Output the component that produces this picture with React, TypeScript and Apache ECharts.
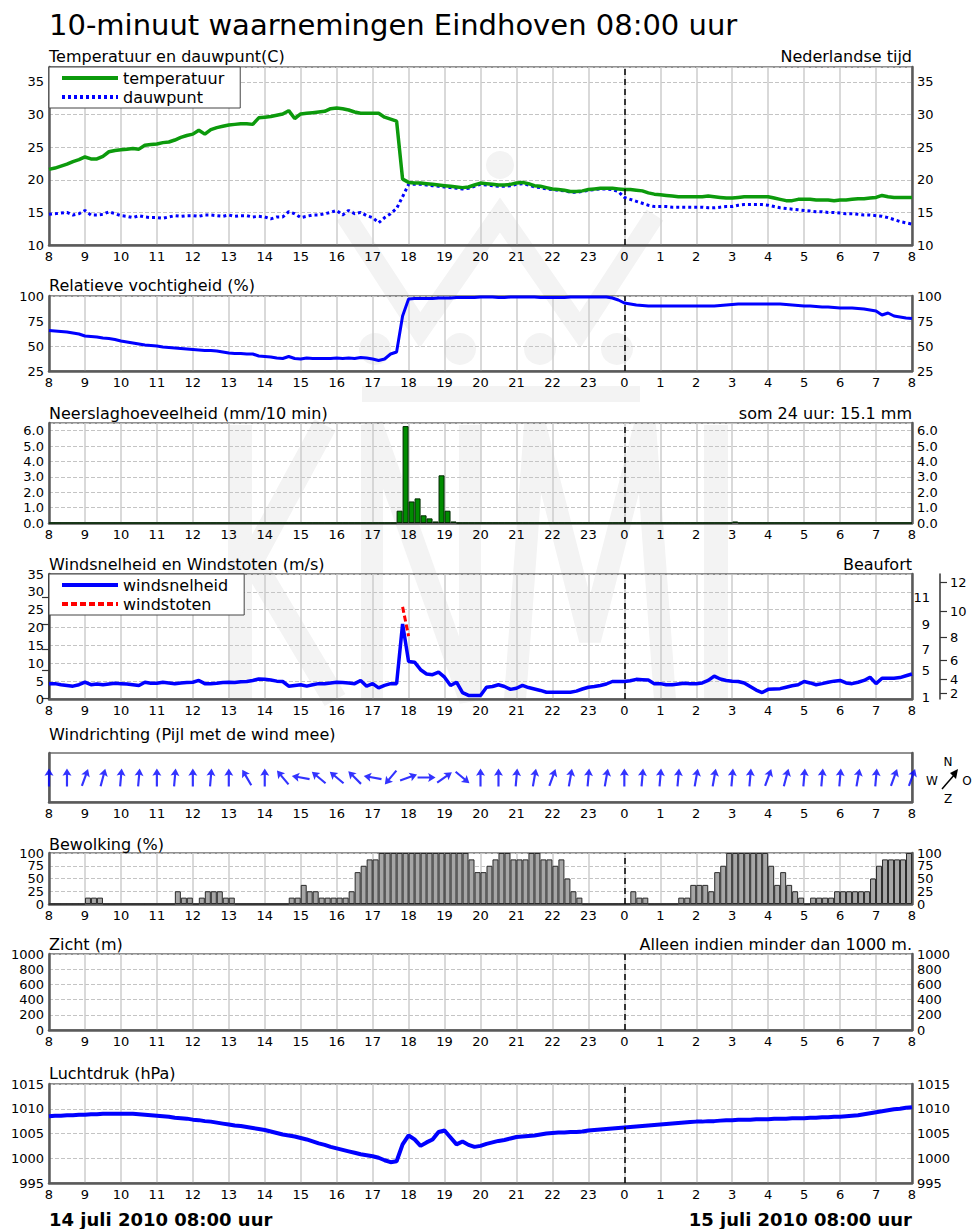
import React, { useEffect, useRef } from "react";
import * as echarts from "echarts";

// ---------- DATA ----------
const hourLabels = ["8", "9", "10", "11", "12", "13", "14", "15", "16", "17", "18", "19", "20", "21", "22", "23", "0", "1", "2", "3", "4", "5", "6", "7", "8"];
const stepsPerHour = 6; // 10-minute observations, 14 juli 08:00 .. 15 juli 08:00

const temperature = [
  21.6, 21.8, 22.1, 22.4, 22.8, 23.1,
  23.5, 23.2, 23.2, 23.6, 24.3, 24.5,
  24.6, 24.7, 24.8, 24.7, 25.3, 25.4,
  25.5, 25.7, 25.8, 26.1, 26.5, 26.8,
  27.0, 27.6, 27.0, 27.7, 28.0, 28.2,
  28.4, 28.5, 28.6, 28.6, 28.5, 29.5,
  29.6, 29.7, 29.9, 30.1, 30.6, 29.4,
  30.1, 30.2, 30.3, 30.4, 30.5, 30.9,
  31.0, 30.9, 30.7, 30.4, 30.2, 30.2,
  30.2, 30.2, 29.6, 29.3, 29.0, 20.1,
  19.6, 19.5, 19.5, 19.4, 19.3, 19.2,
  19.1, 19.0, 18.9, 18.8, 18.9, 19.2,
  19.5, 19.4, 19.3, 19.2, 19.2, 19.3,
  19.5, 19.6, 19.4, 19.1, 19.0, 18.8,
  18.6, 18.5, 18.4, 18.2, 18.2, 18.3,
  18.5, 18.6, 18.7, 18.7, 18.7, 18.6,
  18.5, 18.5, 18.4, 18.3, 18.0, 17.8,
  17.7, 17.6, 17.5, 17.4, 17.4, 17.4,
  17.4, 17.4, 17.5, 17.4, 17.3, 17.2,
  17.2, 17.3, 17.4, 17.4, 17.4, 17.4,
  17.4, 17.2, 17.0, 16.8, 16.8, 17.0,
  17.0, 17.0, 16.9, 16.9, 16.9, 16.8,
  16.9, 16.9, 17.0, 17.1, 17.1, 17.2,
  17.3, 17.6, 17.4, 17.3, 17.3, 17.3,
  17.3,
];

const dewpoint = [
  14.7, 14.8, 14.9, 15.0, 14.6, 14.8,
  15.3, 14.6, 14.6, 14.7, 15.1, 14.8,
  14.5, 14.4, 14.2, 14.5, 14.3, 14.2,
  14.2, 14.1, 14.3, 14.5, 14.4, 14.5,
  14.5, 14.4, 14.6, 14.6, 14.5, 14.4,
  14.6, 14.4, 14.5, 14.5, 14.3, 14.4,
  14.3, 14.0, 14.3, 14.3, 15.1, 14.8,
  14.2, 14.4, 14.6, 14.6, 14.8, 15.0,
  15.3, 14.6, 15.3, 14.8, 15.0, 14.5,
  14.2, 13.4, 14.2, 14.8, 15.6, 17.4,
  19.3, 19.3, 19.3, 19.2, 19.1, 19.0,
  18.9, 18.8, 18.7, 18.6, 18.7, 19.0,
  19.3, 19.2, 19.1, 19.0, 19.0, 19.1,
  19.3, 19.4, 19.2, 18.9, 18.8, 18.6,
  18.5, 18.4, 18.3, 18.1, 18.1, 18.2,
  18.4, 18.5, 18.6, 18.6, 18.5, 18.2,
  17.3, 17.0, 16.7, 16.4, 16.1, 15.9,
  15.9, 15.9, 15.8, 15.8, 15.8, 15.8,
  15.8, 15.8, 15.7, 15.7, 15.8, 15.9,
  15.9, 16.1, 16.2, 16.2, 16.2, 16.2,
  16.1, 15.9, 15.7, 15.6, 15.5, 15.4,
  15.3, 15.2, 15.1, 15.1, 15.0, 15.0,
  14.9, 14.8, 14.8, 14.7, 14.6, 14.6,
  14.5, 14.4, 14.2, 13.9, 13.6, 13.4,
  13.2,
];

const humidity = [
  65.5, 65, 64.5, 64, 63, 62,
  60, 59.5, 59, 58, 57.5, 56.5,
  55, 54, 53, 52, 51, 50.5,
  50, 49, 48.5, 48, 47.5, 47,
  46.5, 46, 45.5, 45.5, 45, 44,
  43, 42.5, 42.5, 42, 42, 40,
  39.5, 39, 38, 37.5, 39.5, 37.5,
  37, 38, 37.5, 37.5, 37.5, 37.5,
  38, 37.5, 38, 37.5, 38.5, 38,
  37, 35.5, 37, 42, 44, 80,
  97, 97.5, 97.5, 97.5, 97.5, 98,
  98, 98, 98.5, 98.5, 98.5, 98.5,
  99, 99, 99, 98.5, 98.5, 99,
  99, 99, 99, 99, 98.5, 98.5,
  98.5, 98.5, 98.5, 99, 99, 99,
  99, 99, 99, 99, 98, 96,
  93, 92, 91, 90.5, 90, 90,
  90, 90, 90, 90, 90, 90,
  90, 90, 90, 90, 90.5, 91,
  91.5, 92, 92, 92, 92, 92,
  92, 92, 92, 91.5, 91, 90.5,
  90, 90, 89.5, 89, 89, 88.5,
  88, 88, 88, 87.5, 87, 86,
  85, 81, 83, 80, 79, 78,
  77.5,
];

// precipitation per 10-minute interval (mm), 144 intervals
const rain = [
  0, 0, 0, 0, 0, 0, 0, 0, 0, 0, 0, 0,
  0, 0, 0, 0, 0, 0, 0, 0, 0, 0, 0, 0,
  0, 0, 0, 0, 0, 0, 0, 0, 0, 0, 0, 0,
  0, 0, 0, 0, 0, 0, 0, 0, 0, 0, 0, 0,
  0, 0, 0, 0, 0, 0, 0, 0, 0, 0, 0.8, 6.3,
  1.4, 1.6, 0.5, 0.3, 0.1, 3.1, 0.8, 0.1, 0, 0, 0, 0,
  0, 0, 0, 0, 0, 0, 0, 0, 0, 0, 0, 0,
  0, 0, 0, 0, 0, 0, 0, 0, 0, 0, 0, 0,
  0, 0, 0, 0, 0, 0, 0, 0, 0, 0, 0, 0,
  0, 0, 0, 0, 0, 0, 0.1, 0, 0, 0, 0, 0,
  0, 0, 0, 0, 0, 0, 0, 0, 0, 0, 0, 0,
  0, 0, 0, 0, 0, 0, 0, 0, 0, 0, 0, 0,
];

const windSpeed = [
  4.3, 4.3, 4.0, 3.8, 3.6, 4.0,
  4.7, 4.0, 4.2, 4.0, 4.2, 4.4,
  4.3, 4.2, 4.0, 3.8, 4.7, 4.4,
  4.4, 4.7, 4.5, 4.3, 4.5, 4.6,
  4.7, 5.2, 4.3, 4.3, 4.4, 4.6,
  4.7, 4.6, 4.8, 4.9, 5.2, 5.6,
  5.5, 5.3, 5.0, 4.9, 3.6, 3.8,
  4.0, 3.6, 4.0, 4.3, 4.3, 4.5,
  4.7, 4.6, 4.5, 4.3, 5.2, 3.6,
  4.3, 3.1, 3.8, 4.3, 4.3, 21.0,
  10.5, 10.3, 8.2, 7.0, 6.8, 7.5,
  6.1, 3.8, 4.7, 1.8, 1.0, 1.0,
  1.0, 3.3, 3.5, 4.0, 3.5, 2.7,
  3.0, 3.8, 3.2, 2.8, 2.4, 1.9,
  1.9, 1.9, 1.9, 1.9, 2.2, 2.8,
  3.3, 3.5, 3.8, 4.2, 4.9, 4.9,
  4.9, 5.1, 5.5, 5.4, 5.3, 4.3,
  4.3, 4.0, 4.0, 4.2, 4.4, 4.3,
  4.3, 4.5, 5.2, 6.4, 5.6, 5.2,
  5.0, 4.9, 4.5, 3.5, 2.5, 1.8,
  2.7, 2.8, 2.9, 3.3, 3.7, 4.0,
  4.9, 4.5, 4.0, 4.3, 4.7, 5.0,
  5.2, 4.5, 4.3, 4.7, 5.2, 6.1,
  4.3, 5.8, 5.8, 5.8, 6.0, 6.5,
  7.0,
];

const gustTimes = ["17:50", "18:00"];
const gustValues = [25.8, 17.6];

// wind direction (degrees, where the wind comes from), every 30 minutes
const windDirection = [
  180, 180, 200, 195, 185, 185, 180, 185, 180, 185,
  180, 150, 180, 140, 100, 130, 130, 135, 100, 40,
  250, 270, 235, 310, 180, 180, 185, 190, 200, 190,
  185, 190, 180, 185, 185, 185, 190, 190, 185, 185,
  200, 195, 185, 185, 185, 190, 185, 200, 200,
];

// cloud cover per 10-minute interval (%), 144 intervals
const clouds = [
  0, 0, 0, 0, 0, 0, 12.5, 12.5, 12.5, 0, 0, 0,
  0, 0, 0, 0, 0, 0, 0, 0, 0, 25, 12.5, 12.5,
  0, 12.5, 25, 25, 25, 12.5, 12.5, 0, 0, 0, 0, 0,
  0, 0, 0, 0, 12.5, 12.5, 37.5, 25, 25, 12.5, 12.5, 12.5,
  12.5, 12.5, 25, 62.5, 75, 87.5, 87.5, 100, 100, 100, 100, 100,
  100, 100, 100, 100, 100, 100, 100, 100, 100, 100, 87.5, 62.5,
  62.5, 75, 87.5, 100, 100, 87.5, 87.5, 87.5, 100, 100, 87.5, 87.5,
  75, 87.5, 50, 25, 12.5, 0, 0, 0, 0, 0, 0, 0,
  0, 25, 12.5, 12.5, 0, 0, 0, 0, 0, 12.5, 12.5, 37.5,
  37.5, 37.5, 25, 62.5, 75, 100, 100, 100, 100, 100, 100, 100,
  75, 37.5, 62.5, 37.5, 25, 12.5, 0, 12.5, 12.5, 12.5, 12.5, 25,
  25, 25, 25, 25, 25, 50, 75, 87.5, 87.5, 87.5, 87.5, 100,
];
const cloudTicks = [0, 25, 50, 75, 100];

// visibility only shown when below 1000 m: none this day
const visibility: number[] = [];

const pressure = [
  1008.5, 1008.6, 1008.6, 1008.7, 1008.7, 1008.8,
  1008.8, 1008.9, 1008.9, 1009.0, 1009.0, 1009.0,
  1009.0, 1009.0, 1009.0, 1008.9, 1008.8, 1008.7,
  1008.6, 1008.5, 1008.4, 1008.2, 1008.1, 1008.0,
  1007.8, 1007.7, 1007.5, 1007.4, 1007.2, 1007.0,
  1006.8, 1006.6, 1006.5, 1006.3, 1006.1, 1005.9,
  1005.7, 1005.4, 1005.1, 1004.8, 1004.6, 1004.4,
  1004.1, 1003.8, 1003.4, 1003.0, 1002.7, 1002.3,
  1002.0, 1001.7, 1001.4, 1001.1, 1000.8, 1000.6,
  1000.4, 1000.1, 999.6, 999.2, 999.4, 1002.8,
  1004.6, 1003.8, 1002.5, 1003.2, 1003.8, 1005.3,
  1005.6, 1004.2, 1002.8, 1003.4, 1002.7, 1002.3,
  1002.5, 1002.9, 1003.2, 1003.5, 1003.7, 1004.0,
  1004.3, 1004.4, 1004.5, 1004.6, 1004.8, 1005.0,
  1005.1, 1005.2, 1005.2, 1005.3, 1005.3, 1005.4,
  1005.6, 1005.7, 1005.8, 1005.9, 1006.0, 1006.1,
  1006.2, 1006.3, 1006.4, 1006.5, 1006.6, 1006.7,
  1006.8, 1006.9, 1007.0, 1007.1, 1007.2, 1007.3,
  1007.4, 1007.4, 1007.5, 1007.5, 1007.6, 1007.7,
  1007.7, 1007.8, 1007.8, 1007.8, 1007.9, 1007.9,
  1007.9, 1008.0, 1008.0, 1008.0, 1008.1, 1008.1,
  1008.1, 1008.2, 1008.2, 1008.3, 1008.3, 1008.4,
  1008.4, 1008.5, 1008.6, 1008.7, 1008.9, 1009.1,
  1009.3, 1009.5, 1009.7, 1009.9, 1010.0, 1010.2,
  1010.3,
];

const beaufortNumbers = [1, 2, 3, 4, 5, 6, 7, 8, 9, 10, 11, 12];
const beaufortLowerBounds = [0.3, 1.6, 3.4, 5.5, 8.0, 10.8, 13.9, 17.2, 20.8, 24.5, 28.5, 32.7];

const rainTotal = "15.1";

// ---------- CHART ----------
const FONT = '"DejaVu Sans", Verdana, sans-serif';
const GREEN = "#0c9a0c";
const BLUE = "#0000ff";
const midnight = hourLabels.indexOf("0");

function clockToHours(t: string) {
  const [h, m] = t.split(":").map(Number);
  return ((h - 8 + 24) % 24) + m / 60;
}

function buildOption() {
  const L = 49;
  const R = 975 - 912;
  const panels = [
    { top: 67, height: 178, min: 10, max: 37.3, interval: 5, rightLabels: true, fmt: null as any },
    { top: 296, height: 75, min: 25, max: 100, interval: 25, rightLabels: true, fmt: null as any },
    { top: 423, height: 100, min: 0, max: 6.5, interval: 1, rightLabels: true, fmt: (v: number) => v.toFixed(1) },
    { top: 574, height: 125, min: 0, max: 35, interval: 5, rightLabels: false, fmt: null as any },
    { top: 753, height: 49, min: 0, max: 1, interval: 1, rightLabels: false, fmt: null as any, hidden: true },
    { top: 853, height: 51, min: 0, max: 100, interval: 25, rightLabels: true, fmt: null as any, custom: cloudTicks },
    { top: 954, height: 76, min: 0, max: 1000, interval: 200, rightLabels: true, fmt: null as any },
    { top: 1084, height: 99, min: 995, max: 1015, interval: 5, rightLabels: true, fmt: null as any },
  ];

  const grid = panels.map((p) => ({
    left: L,
    right: R,
    top: p.top,
    height: p.height,
    show: true,
    borderColor: "#222",
    borderWidth: 1,
    backgroundColor: "transparent",
    containLabel: false,
    outerBoundsMode: "none",
  }));

  const axisLabelBase = { fontFamily: FONT, fontSize: 13, color: "#000", hideOverlap: false };
  const frameLine = { show: true, onZero: false, lineStyle: { color: "#5a5a5a", width: 2.5 } };

  const xAxis = panels.map((p: any, i) => ({
    gridIndex: i,
    type: "value",
    min: 0,
    max: 24,
    interval: 1,
    axisLine: frameLine,
    axisTick: { show: false },
    axisLabel: { ...axisLabelBase, margin: 5, showMinLabel: true, showMaxLabel: true, formatter: (v: number) => hourLabels[Math.round(v)] },
    splitLine: { show: !p.hidden, lineStyle: { color: "#cdcdcd", width: 1.5 } },
  }));

  const yAxis: any[] = [];
  const leftIdx: number[] = [];
  panels.forEach((p: any, i) => {
    const showMax = Math.abs(p.max / p.interval - Math.round(p.max / p.interval)) < 1e-9;
    const label: any = {
      ...axisLabelBase,
      margin: 5,
      showMinLabel: true,
      showMaxLabel: showMax,
      formatter: p.fmt ? p.fmt : (v: number) => String(v),
    };
    // dense label sets are split over two overlaid axes so none is dropped
    let extra: number[] | null = null;
    if (p.custom) {
      label.customValues = p.custom.filter((_: number, k: number) => k % 2 === 0);
      extra = p.custom.filter((_: number, k: number) => k % 2 === 1);
    }
    leftIdx.push(yAxis.length);
    yAxis.push({
      gridIndex: i,
      type: "value",
      position: "left",
      min: p.min,
      max: p.max,
      interval: p.interval,
      axisLine: frameLine,
      axisTick: { show: false },
      axisLabel: { ...label, show: !p.hidden },
      splitLine: { show: !p.hidden, lineStyle: { color: "#c4c4c4", type: [4, 2], width: 1.2 } },
    });
    yAxis.push({
      gridIndex: i,
      type: "value",
      position: "right",
      offset: 0,
      min: p.min,
      max: p.max,
      interval: p.interval,
      axisLine: frameLine,
      axisTick: { show: false },
      axisLabel: { ...label, show: p.rightLabels },
      splitLine: { show: false },
    });
    if (extra) {
      ["left", "right"].forEach((pos) => {
        yAxis.push({
          gridIndex: i,
          type: "value",
          position: pos,
          offset: 0,
          min: p.min,
          max: p.max,
          axisLine: { show: false },
          axisTick: { show: false },
          axisLabel: { ...label, customValues: extra, showMinLabel: true, showMaxLabel: true },
          splitLine: { show: false },
        });
      });
    }
  });

  // Beaufort scale next to the wind panel
  const oddB = beaufortLowerBounds.filter((_, k) => beaufortNumbers[k] % 2 === 1);
  const evenB = beaufortLowerBounds.filter((_, k) => beaufortNumbers[k] % 2 === 0);
  const bftLabel = (v: number) => String(beaufortNumbers[beaufortLowerBounds.indexOf(v)]);
  [
    { vals: oddB, inside: true },
    { vals: evenB, inside: false },
  ].forEach((b) => {
    yAxis.push({
      gridIndex: 3,
      type: "value",
      position: "right",
      offset: 28,
      min: 0,
      max: 35,
      axisLine: { show: true, lineStyle: { color: "#333", width: 1.5 } },
      axisTick: { show: true, inside: b.inside, length: 7, customValues: b.vals, lineStyle: { color: "#333", width: 1.2 } },
      axisLabel: { ...axisLabelBase, inside: b.inside, margin: 10, showMinLabel: true, customValues: b.vals, formatter: bftLabel },
      splitLine: { show: false },
    });
  });

  const midLine = {
    silent: true,
    symbol: ["none", "none"],
    label: { show: false },
    lineStyle: { color: "#000", type: [6, 4], width: 1.5 },
    data: [{ xAxis: midnight }],
  };

  const asLine = (arr: number[]) => arr.map((v, i) => [i / stepsPerHour, v]);
  const asBars = (arr: number[]) => arr.map((v, i) => [(i + 0.5) / stepsPerHour, v]);

  const series: any[] = [
    {
      name: "temperatuur",
      type: "line",
      xAxisIndex: 0,
      yAxisIndex: leftIdx[0],
      data: asLine(temperature),
      symbol: "none",
      lineStyle: { color: GREEN, width: 3.5 },
      itemStyle: { color: GREEN },
      z: 4,
      markLine: midLine,
    },
    {
      name: "dauwpunt",
      type: "line",
      xAxisIndex: 0,
      yAxisIndex: leftIdx[0],
      data: asLine(dewpoint),
      symbol: "none",
      lineStyle: { color: BLUE, width: 3, type: [3, 3] },
      itemStyle: { color: BLUE },
      z: 3,
    },
    {
      name: "vochtigheid",
      type: "line",
      xAxisIndex: 1,
      yAxisIndex: leftIdx[1],
      data: asLine(humidity),
      symbol: "none",
      lineStyle: { color: BLUE, width: 3 },
      markLine: midLine,
    },
    {
      name: "neerslag",
      type: "bar",
      xAxisIndex: 2,
      yAxisIndex: leftIdx[2],
      data: asBars(rain),
      barWidth: 6,
      itemStyle: { color: "#008c00", borderColor: "#002800", borderWidth: 1 },
      markLine: midLine,
    },
    {
      name: "windsnelheid",
      type: "line",
      xAxisIndex: 3,
      yAxisIndex: leftIdx[3],
      data: asLine(windSpeed),
      symbol: "none",
      lineStyle: { color: BLUE, width: 3.5 },
      itemStyle: { color: BLUE },
      markLine: midLine,
    },
    {
      name: "windstoten",
      type: "line",
      xAxisIndex: 3,
      yAxisIndex: leftIdx[3],
      data: gustTimes.map((t, k) => [clockToHours(t), gustValues[k]]),
      symbol: "none",
      lineStyle: { color: "#ff0000", width: 3, type: [6, 3] },
      itemStyle: { color: "#ff0000" },
      z: 5,
    },
    {
      name: "windrichting",
      type: "scatter",
      xAxisIndex: 4,
      yAxisIndex: leftIdx[4],
      symbol: "path://M5,0 L10,9 L6.2,7.6 L6.2,22 L3.8,22 L3.8,7.6 L0,9 Z",
      symbolSize: [9, 18],
      itemStyle: { color: BLUE },
      data: windDirection.map((d, k) => ({ value: [k / 2, 0.5], symbolRotate: -((d + 180) % 360) })),
    },
    {
      name: "bewolking",
      type: "bar",
      xAxisIndex: 5,
      yAxisIndex: leftIdx[5],
      data: asBars(clouds),
      barWidth: 6,
      itemStyle: { color: "#a6a6a6", borderColor: "#2a2a2a", borderWidth: 1 },
      markLine: midLine,
    },
    {
      name: "zicht",
      type: "line",
      xAxisIndex: 6,
      yAxisIndex: leftIdx[6],
      data: asLine(visibility),
      symbol: "none",
      lineStyle: { color: BLUE, width: 3 },
      markLine: midLine,
    },
    {
      name: "luchtdruk",
      type: "line",
      xAxisIndex: 7,
      yAxisIndex: leftIdx[7],
      data: asLine(pressure),
      symbol: "none",
      lineStyle: { color: BLUE, width: 4 },
      markLine: midLine,
    },
  ];

  const legendBase = {
    orient: "vertical",
    left: L,
    itemWidth: 56,
    itemHeight: 14,
    itemGap: 3,
    padding: [3, 16, 3, 11],
    backgroundColor: "#fff",
    borderColor: "#444",
    borderWidth: 1,
    borderRadius: 0,
    itemStyle: { opacity: 0 },
    lineStyle: { width: 4 },
    textStyle: { fontFamily: FONT, fontSize: 16, color: "#000" },
    selectedMode: false,
  };
  const legend = [
    { ...legendBase, top: 67, data: ["temperatuur", "dauwpunt"] },
    { ...legendBase, top: 574, data: ["windsnelheid", "windstoten"] },
  ];

  const t = (text: string, x: number, y: number, size: number, align = "left", weight = "normal") => ({
    type: "text",
    x,
    y,
    silent: true,
    style: {
      text,
      font: `${weight} ${size}px ${FONT}`,
      fill: "#000",
      textAlign: align,
      textVerticalAlign: "middle",
      align,
      verticalAlign: "middle",
    },
  });

  const wm = "#f3f3f3";
  const wmLine = (points: number[][], w = 22) => ({
    type: "polyline",
    z: -10,
    silent: true,
    shape: { points },
    style: { stroke: wm, lineWidth: w, fill: null, lineJoin: "miter" },
  });
  const watermark = [
    wmLine([[240, 425], [240, 700]], 24),
    wmLine([[325, 425], [252, 560], [335, 700]], 24),
    wmLine([[372, 700], [372, 425], [470, 700], [470, 425]], 22),
    wmLine([[515, 700], [535, 425], [590, 640], [645, 425], [665, 700]], 22),
    wmLine([[716, 425], [716, 700]], 24),
    wmLine([[345, 215], [420, 330], [500, 215], [580, 330], [655, 215]], 20),
    { type: "rect", z: -10, silent: true, shape: { x: 362, y: 386, width: 278, height: 16 }, style: { fill: wm } },
    ...[375, 460, 540, 617].map((cx) => ({ type: "circle", z: -10, silent: true, shape: { cx, cy: 349, r: 16 }, style: { fill: wm } })),
    { type: "circle", z: -10, silent: true, shape: { cx: 500, cy: 165, r: 14 }, style: { fill: wm } },
  ];

  const compass = [
    t("N", 948, 762, 12, "center"),
    t("W", 932, 781, 12, "center"),
    t("O", 967, 781, 12, "center"),
    t("Z", 948, 799, 12, "center"),
    { type: "line", silent: true, shape: { x1: 942, y1: 789, x2: 955, y2: 774 }, style: { stroke: "#000", lineWidth: 1.5 } },
    { type: "polygon", silent: true, shape: { points: [[958, 769], [950, 773], [956, 779]] }, style: { fill: "#000" } },
  ];

  const graphic = [
    ...watermark,
    t("10-minuut waarnemingen Eindhoven 08:00 uur", 49, 25, 29),
    t("Temperatuur en dauwpunt(C)", 49, 56, 16),
    t("Nederlandse tijd", 912, 56, 16, "right"),
    t("Relatieve vochtigheid (%)", 49, 285, 16),
    t("Neerslaghoeveelheid (mm/10 min)", 49, 413, 16),
    t(`som 24 uur: ${rainTotal} mm`, 912, 413, 16, "right"),
    t("Windsnelheid en Windstoten (m/s)", 49, 564, 16),
    t("Beaufort", 912, 564, 16, "right"),
    t("Windrichting (Pijl met de wind mee)", 49, 734, 16),
    ...compass,
    t("Bewolking (%)", 49, 844, 16),
    t("Zicht (m)", 49, 944, 16),
    t("Alleen indien minder dan 1000 m.", 912, 944, 16, "right"),
    t("Luchtdruk (hPa)", 49, 1073, 16),
    t("14 juli 2010 08:00 uur", 49, 1219, 18, "left", "bold"),
    t("15 juli 2010 08:00 uur", 912, 1219, 18, "right", "bold"),
  ];

  return {
    animation: false,
    backgroundColor: "#fff",
    textStyle: { fontFamily: FONT },
    grid,
    xAxis,
    yAxis,
    legend,
    series,
    graphic,
  };
}

export default function App() {
  const ref = useRef<HTMLDivElement>(null);
  useEffect(() => {
    document.body.style.margin = "0";
    const chart = echarts.init(ref.current as HTMLDivElement, null, { renderer: "svg" });
    chart.setOption(buildOption() as any);
    return () => chart.dispose();
  }, []);
  return <div ref={ref} style={{ width: 975, height: 1229 }} />;
}
